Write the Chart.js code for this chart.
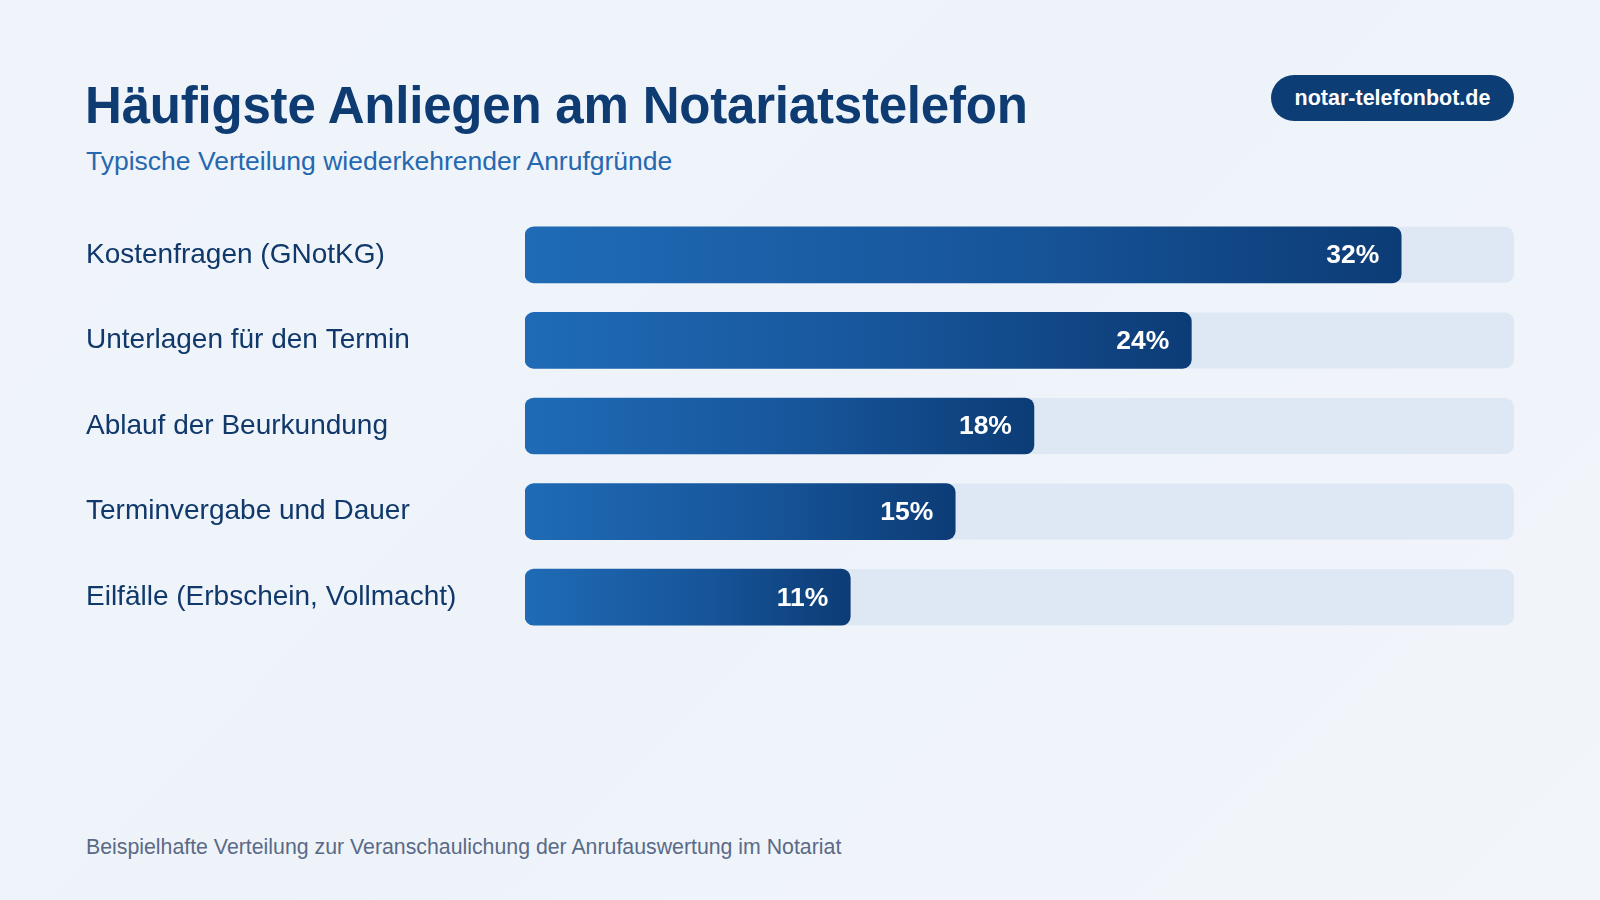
<!DOCTYPE html>
<html lang="de">
<head>
    <meta charset="UTF-8">
    <title>Häufigste Anliegen am Notariatstelefon</title>
    <script src="https://cdn.jsdelivr.net/npm/chart.js"></script>
    <style>
        html, body {
            margin: 0;
            padding: 0;
        }
        body {
            width: 1600px;
            height: 900px;
            position: relative;
            overflow: hidden;
            font-family: "Liberation Sans", Arial, sans-serif;
            background: linear-gradient(135deg, #f0f4fa 0%, #eef3fa 50%, #f2f5fa 100%);
        }
        h1 {
            position: absolute;
            left: 85px;
            top: 76px;
            margin: 0;
            font-size: 51px;
            font-weight: bold;
            color: #0d3b72;
            letter-spacing: -0.2px;
        }
        .subtitle {
            position: absolute;
            left: 86px;
            top: 146px;
            margin: 0;
            font-size: 26.5px;
            color: #2568b0;
        }
        .badge {
            position: absolute;
            left: 1271px;
            top: 75px;
            width: 243px;
            height: 46px;
            line-height: 46px;
            border-radius: 23px;
            background: #0d3d75;
            color: #fff;
            font-weight: bold;
            font-size: 21.5px;
            text-align: center;
        }
        #chart-box {
            position: absolute;
            left: 86px;
            top: 212px;
            width: 1428px;
            height: 428px;
        }
        .footer {
            position: absolute;
            left: 86px;
            top: 835px;
            margin: 0;
            font-size: 21.3px;
            color: #5a6a86;
        }
    </style>
</head>
<body>
    <h1>Häufigste Anliegen am Notariatstelefon</h1>
    <p class="subtitle">Typische Verteilung wiederkehrender Anrufgründe</p>
    <div class="badge">notar-telefonbot.de</div>

    <div id="chart-box">
        <canvas id="anliegenChart"></canvas>
    </div>

    <p class="footer">Beispielhafte Verteilung zur Veranschaulichung der Anrufauswertung im Notariat</p>

    <script>
        const categories = [
            'Kostenfragen (GNotKG)',
            'Unterlagen für den Termin',
            'Ablauf der Beurkundung',
            'Terminvergabe und Dauer',
            'Eilfälle (Erbschein, Vollmacht)'
        ];
        const shares = [32, 24, 18, 15, 11];
        const shareLabels = ['32%', '24%', '18%', '15%', '11%'];

        // scale range chosen so the bars line up with the track like in the original
        const axisMin = -1.4;
        const axisMax = 36.3;

        function barGradient(context) {
            const chart = context.chart;
            if (!chart.chartArea || context.dataIndex === undefined) {
                return '#1a5aa0';
            }
            const xScale = chart.scales.x;
            const x0 = xScale.getPixelForValue(axisMin);
            const x1 = xScale.getPixelForValue(shares[context.dataIndex]);
            const g = chart.ctx.createLinearGradient(x0, 0, x1, 0);
            g.addColorStop(0, '#1f6bb6');
            g.addColorStop(0.55, '#17559a');
            g.addColorStop(1, '#0c3c76');
            return g;
        }

        // light track behind every bar
        const trackPlugin = {
            id: 'track',
            beforeDatasetsDraw(chart) {
                const ctx = chart.ctx;
                const area = chart.chartArea;
                const meta = chart.getDatasetMeta(0);
                ctx.save();
                ctx.fillStyle = '#dde8f4';
                meta.data.forEach(bar => {
                    const h = bar.height;
                    ctx.beginPath();
                    ctx.roundRect(area.left, bar.y - h / 2, area.right - area.left, h, 9);
                    ctx.fill();
                });
                ctx.restore();
            }
        };

        // percentage text inside the bar end
        const valueLabelPlugin = {
            id: 'valueLabels',
            afterDatasetsDraw(chart) {
                const ctx = chart.ctx;
                const meta = chart.getDatasetMeta(0);
                ctx.save();
                ctx.fillStyle = '#ffffff';
                ctx.font = 'bold 26.5px "Liberation Sans", Arial, sans-serif';
                ctx.textAlign = 'right';
                ctx.textBaseline = 'middle';
                meta.data.forEach((bar, i) => {
                    ctx.fillText(shareLabels[i], bar.x - 22, bar.y + 1);
                });
                ctx.restore();
            }
        };

        const ctx = document.getElementById('anliegenChart').getContext('2d');
        const anliegenChart = new Chart(ctx, {
            type: 'bar',
            data: {
                labels: categories,
                datasets: [
                    {
                        label: 'Anteil',
                        data: shares,
                        base: axisMin,
                        backgroundColor: barGradient,
                        borderRadius: 9,
                        borderSkipped: false,
                        barThickness: 56
                    }
                ]
            },
            plugins: [trackPlugin, valueLabelPlugin],
            options: {
                indexAxis: 'y',
                responsive: true,
                maintainAspectRatio: false,
                animation: false,
                layout: {
                    padding: 0
                },
                scales: {
                    x: {
                        display: false,
                        min: axisMin,
                        max: axisMax
                    },
                    y: {
                        grid: {
                            display: false
                        },
                        border: {
                            display: false
                        },
                        ticks: {
                            crossAlign: 'far',
                            padding: 0,
                            color: '#10386a',
                            font: {
                                family: '"Liberation Sans", Arial, sans-serif',
                                size: 28
                            }
                        },
                        afterFit(scale) {
                            scale.width = 439;
                            scale.paddingTop = 0;
                            scale.paddingBottom = 0;
                        }
                    }
                },
                plugins: {
                    legend: {
                        display: false
                    },
                    tooltip: {
                        enabled: false
                    }
                }
            }
        });
    </script>
</body>
</html>
